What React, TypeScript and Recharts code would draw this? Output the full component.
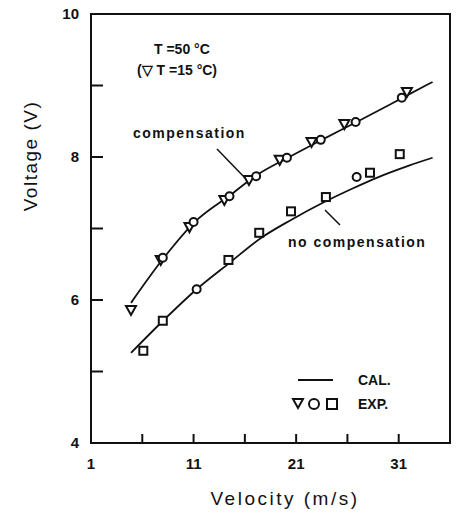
import { ComposedChart, Line, Scatter, XAxis, YAxis, ReferenceArea, Customized } from "recharts";

// calculated curves (CAL.)
const compCalVel = [4.9, 8.1, 11.1, 14.6, 17.2, 20.2, 23.5, 26.9, 31.4, 34.3];
const compCalVolt = [5.96, 6.59, 7.09, 7.47, 7.75, 7.99, 8.24, 8.49, 8.83, 9.05];
const noCompCalVel = [4.9, 8.1, 11.3, 14.6, 17.5, 20.5, 23.6, 26.5, 29.2, 32, 34.3];
const noCompCalVolt = [5.26, 5.72, 6.15, 6.53, 6.86, 7.12, 7.36, 7.56, 7.73, 7.88, 7.99];

// experiments (EXP.)
const triVel = [4.9, 7.8, 10.6, 14.0, 16.4, 19.4, 22.5, 25.7, 31.8];
const triVolt = [5.86, 6.56, 7.02, 7.4, 7.68, 7.96, 8.21, 8.46, 8.91];
const circVel = [8.0, 11.0, 14.5, 17.1, 20.1, 23.4, 26.8, 31.3, 11.3, 26.9];
const circVolt = [6.59, 7.09, 7.45, 7.73, 7.99, 8.24, 8.49, 8.83, 6.15, 7.72];
const sqVel = [6.1, 8.0, 14.4, 17.4, 20.5, 23.9, 28.2, 31.1];
const sqVolt = [5.29, 5.71, 6.56, 6.94, 7.24, 7.44, 7.78, 8.04];

const xTicks = [1, 6, 11, 16, 21, 26, 31];
const xLabels = [1, 11, 21, 31];
const yTicks = [4, 5, 6, 7, 8, 9, 10];
const yLabels = [4, 6, 8, 10];

const zip = (xs: number[], ys: number[]) => xs.map((v, i) => ({ v, V: ys[i] }));

const FONT = "'Liberation Sans', Arial, sans-serif";
const tickStyle = { fontSize: 15, fontWeight: 700, fill: "#111", fontFamily: FONT };

const TriDown = (p: any) => (
  <path
    d={`M${p.cx - 5},${p.cy - 4} L${p.cx + 5},${p.cy - 4} L${p.cx},${p.cy + 5} Z`}
    fill="#fff"
    stroke="#111"
    strokeWidth={2}
  />
);
const Circ = (p: any) => <circle cx={p.cx} cy={p.cy} r={4} fill="#fff" stroke="#111" strokeWidth={2} />;
const Sq = (p: any) => (
  <rect x={p.cx - 4} y={p.cy - 4} width={8} height={8} fill="#fff" stroke="#111" strokeWidth={2} />
);

function Notes() {
  const t = { fontFamily: FONT, fill: "#111" };
  return (
    <g>
      <text x={30} y={156} transform="rotate(-90 30 156)" textAnchor="middle" dominantBaseline="central" fontSize={19} letterSpacing={1.5} {...t}>
        Voltage (V)
      </text>
      <text x={285} y={505} textAnchor="middle" fontSize={19} letterSpacing={2.5} {...t}>
        Velocity (m/s)
      </text>
      <text x={154} y={54} fontSize={14} fontWeight={700} {...t}>T =50 °C</text>
      <text x={137} y={75} fontSize={14} fontWeight={700} {...t}>(▽  T =15 °C)</text>
      <text x={133} y={138} fontSize={14} fontWeight={700} letterSpacing={1.5} {...t}>compensation</text>
      <line x1={217} y1={149} x2={247} y2={180} stroke="#111" strokeWidth={1.5} />
      <text x={288} y={247} fontSize={14} fontWeight={700} letterSpacing={1.5} {...t}>no compensation</text>
      <line x1={325} y1={210} x2={340} y2={225} stroke="#111" strokeWidth={1.5} />
      <line x1={298} y1={380} x2={333} y2={380} stroke="#111" strokeWidth={1.8} />
      <text x={358} y={385} fontSize={14} fontWeight={700} {...t}>CAL.</text>
      <path d="M293,399 L303,399 L298,408 Z" fill="#fff" stroke="#111" strokeWidth={2} />
      <circle cx={314} cy={404} r={5} fill="#fff" stroke="#111" strokeWidth={2} />
      <rect x={327} y={399} width={10} height={10} fill="#fff" stroke="#111" strokeWidth={2} />
      <text x={358} y={409} fontSize={14} fontWeight={700} {...t}>EXP.</text>
    </g>
  );
}

export default function App() {
  return (
    <div style={{ position: "absolute", left: 0, top: 0, background: "#fff" }}>
      <ComposedChart width={460} height={517} margin={{ top: 14, right: 10, left: 0, bottom: 0 }}>
        <XAxis
          type="number"
          dataKey="v"
          domain={[1, 36]}
          ticks={xTicks}
          allowDataOverflow
          tickSize={-9}
          tickMargin={24}
          height={74}
          tick={tickStyle}
          tickLine={{ stroke: "#111", strokeWidth: 2 }}
          axisLine={{ stroke: "#111", strokeWidth: 2 }}
          tickFormatter={(v: number) => (xLabels.includes(v) ? String(v) : "")}
        />
        <YAxis
          type="number"
          domain={[4, 10]}
          ticks={yTicks}
          allowDataOverflow
          width={91}
          tickSize={-12}
          tickMargin={24}
          tick={tickStyle}
          tickLine={{ stroke: "#111", strokeWidth: 2 }}
          axisLine={{ stroke: "#111", strokeWidth: 2 }}
          tickFormatter={(v: number) => (yLabels.includes(v) ? String(v) : "")}
        />
        <ReferenceArea x1={1} x2={36} y1={4} y2={10} fill="none" stroke="#111" strokeWidth={2} ifOverflow="visible" />
        <Line data={zip(compCalVel, compCalVolt)} dataKey="V" type="monotone" stroke="#111" strokeWidth={1.8} dot={false} isAnimationActive={false} />
        <Line data={zip(noCompCalVel, noCompCalVolt)} dataKey="V" type="monotone" stroke="#111" strokeWidth={1.8} dot={false} isAnimationActive={false} />
        <Scatter data={zip(triVel, triVolt)} dataKey="V" shape={TriDown} isAnimationActive={false} />
        <Scatter data={zip(circVel, circVolt)} dataKey="V" shape={Circ} isAnimationActive={false} />
        <Scatter data={zip(sqVel, sqVolt)} dataKey="V" shape={Sq} isAnimationActive={false} />
        <Customized component={Notes} />
      </ComposedChart>
    </div>
  );
}
